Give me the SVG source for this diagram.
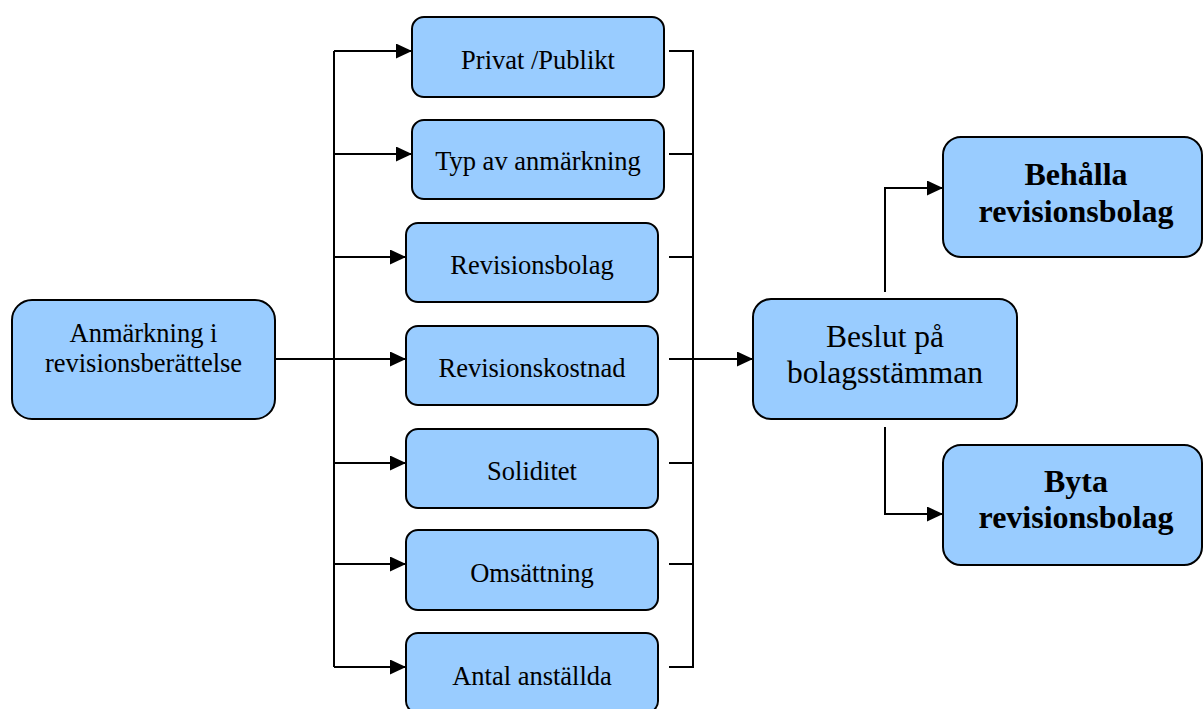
<svg xmlns="http://www.w3.org/2000/svg" width="1203" height="709" viewBox="0 0 1203 709">
  <style>
    .box { fill: #99CCFF; stroke: #000; stroke-width: 2; }
    .lbl { font-family: "Liberation Serif", "Times New Roman", serif; fill: #000; text-anchor: middle; }
    .sm { font-size: 26.5px; }
    .lg { font-size: 31.5px; }
    .bd { font-size: 32px; font-weight: bold; }
    .wire { fill: none; stroke: #000; stroke-width: 2; }
    .arr { fill: none; stroke: #000; stroke-width: 2; marker-end: url(#head); }
  </style>
  <defs>
    <marker id="head" viewBox="0 0 16 15" refX="16" refY="7.5" markerWidth="16" markerHeight="15" markerUnits="userSpaceOnUse" orient="auto">
      <path d="M0,0 L16,7.5 L0,15 Z" fill="#000"/>
    </marker>
  </defs>

  <rect width="1203" height="709" fill="#fff"/>

  <!-- connectors -->
  <g id="connectors">
    <!-- left distribution bus -->
    <path class="wire" d="M334,51 V667"/>
    <path class="arr" d="M334,51 H412"/>
    <path class="arr" d="M334,154 H412"/>
    <path class="arr" d="M334,257 H406"/>
    <path class="arr" d="M275,359 H406"/>
    <path class="arr" d="M334,463 H406"/>
    <path class="arr" d="M334,564 H406"/>
    <path class="arr" d="M334,667 H406"/>
    <!-- right collecting bus -->
    <path class="wire" d="M669,51 H693 V667 H669"/>
    <path class="wire" d="M669,154 H693"/>
    <path class="wire" d="M669,257 H693"/>
    <path class="wire" d="M669,463 H693"/>
    <path class="wire" d="M669,564 H693"/>
    <path class="arr" d="M669,359 H753"/>
    <!-- decision outcomes -->
    <path class="arr" d="M885,292 V188 H943"/>
    <path class="arr" d="M885,427 V514 H943"/>
  </g>

  <g id="anmarkning">
    <rect class="box" x="12" y="300" width="263" height="119" rx="20"/>
    <text class="lbl sm" x="143.5" y="342">Anmärkning i</text>
    <text class="lbl sm" x="143.5" y="372">revisionsberättelse</text>
  </g>

  <g id="privat-publikt">
    <rect class="box" x="412" y="17" width="252" height="80" rx="12"/>
    <text class="lbl sm" x="538" y="69">Privat /Publikt</text>
  </g>
  <g id="typ-av-anmarkning">
    <rect class="box" x="412" y="120" width="252" height="79" rx="12"/>
    <text class="lbl sm" x="538" y="170">Typ av anmärkning</text>
  </g>
  <g id="revisionsbolag">
    <rect class="box" x="406" y="223" width="252" height="79" rx="12"/>
    <text class="lbl sm" x="532" y="274">Revisionsbolag</text>
  </g>
  <g id="revisionskostnad">
    <rect class="box" x="406" y="326" width="252" height="79" rx="12"/>
    <text class="lbl sm" x="532" y="377">Revisionskostnad</text>
  </g>
  <g id="soliditet">
    <rect class="box" x="406" y="429" width="252" height="79" rx="12"/>
    <text class="lbl sm" x="532" y="480">Soliditet</text>
  </g>
  <g id="omsattning">
    <rect class="box" x="406" y="530" width="252" height="80" rx="12"/>
    <text class="lbl sm" x="532" y="582">Omsättning</text>
  </g>
  <g id="antal-anstallda">
    <rect class="box" x="406" y="633" width="252" height="80" rx="12"/>
    <text class="lbl sm" x="532" y="685">Antal anställda</text>
  </g>

  <g id="beslut">
    <rect class="box" x="753" y="299" width="264" height="120" rx="18"/>
    <text class="lbl lg" x="885" y="347">Beslut på</text>
    <text class="lbl lg" x="885" y="383">bolagsstämman</text>
  </g>

  <g id="behalla">
    <rect class="box" x="943" y="137" width="259" height="120" rx="18"/>
    <text class="lbl bd" x="1076" y="185">Behålla</text>
    <text class="lbl bd" x="1076" y="222">revisionsbolag</text>
  </g>

  <g id="byta">
    <rect class="box" x="943" y="445" width="259" height="120" rx="18"/>
    <text class="lbl bd" x="1076" y="492">Byta</text>
    <text class="lbl bd" x="1076" y="528">revisionsbolag</text>
  </g>
</svg>
